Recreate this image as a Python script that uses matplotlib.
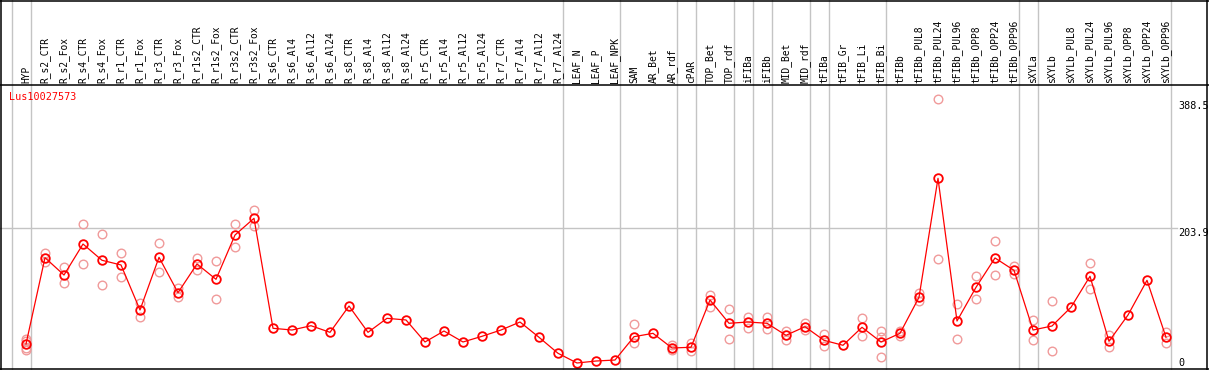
import numpy as np
import matplotlib
matplotlib.use("Agg")
import matplotlib.pyplot as plt
from matplotlib.lines import Line2D

# sample names (column order)
samples = ["HYP", "R_s2_CTR", "R_s2_Fox", "R_s4_CTR", "R_s4_Fox", "R_r1_CTR", "R_r1_Fox",
           "R_r3_CTR", "R_r3_Fox", "R_r1s2_CTR", "R_r1s2_Fox", "R_r3s2_CTR", "R_r3s2_Fox",
           "R_s6_CTR", "R_s6_Al4", "R_s6_Al12", "R_s6_Al24", "R_s8_CTR", "R_s8_Al4",
           "R_s8_Al12", "R_s8_Al24", "R_r5_CTR", "R_r5_Al4", "R_r5_Al12", "R_r5_Al24",
           "R_r7_CTR", "R_r7_Al4", "R_r7_Al12", "R_r7_Al24", "LEAF_N", "LEAF_P", "LEAF_NPK",
           "SAM", "AR_Bet", "AR_rdf", "cPAR", "TOP_Bet", "TOP_rdf", "iFIBa", "iFIBb",
           "MID_Bet", "MID_rdf", "tFIBa", "tFIB_Gr", "tFIB_Li", "tFIB_Bi", "tFIBb",
           "tFIBb_PUL8", "tFIBb_PUL24", "tFIBb_PUL96", "tFIBb_OPP8", "tFIBb_OPP24",
           "tFIBb_OPP96", "sXYLa", "sXYLb", "sXYLb_PUL8", "sXYLb_PUL24", "sXYLb_PUL96",
           "sXYLb_OPP8", "sXYLb_OPP24", "sXYLb_OPP96"]

# mean expression per sample
means = [28.7, 159.3, 133.1, 180.0, 155.4, 148.3, 80.2, 159.9, 106.4, 149.8, 126.6, 193.6,
         218.9, 52.5, 49.9, 56.4, 46.4, 86.2, 46.4, 67.6, 65.1, 31.8, 48.4, 31.8, 40.4,
         49.9, 62.0, 38.9, 14.7, 0.0, 3.0, 4.5, 39.8, 44.9, 22.7, 23.8, 95.3, 60.1, 62.0,
         60.1, 41.9, 54.9, 34.3, 26.8, 54.0, 31.8, 44.9, 99.4, 279.4, 63.5, 114.5, 158.9,
         140.2, 49.9, 56.0, 84.3, 131.2, 32.8, 72.6, 125.1, 38.9]

# replicate values (only those that show beside the mean)
replicates = {
    0: [37, 34, 23, 20], 1: [166, 153], 2: [145, 121], 3: [210, 150], 4: [195, 118],
    5: [166, 130], 6: [91, 70], 7: [181, 137], 8: [113, 100], 9: [159, 140],
    10: [155, 97], 11: [210, 175], 12: [232, 207], 32: [59, 31], 34: [27, 19],
    35: [31, 18], 36: [103, 85], 37: [81, 37], 38: [69, 53], 39: [69, 52],
    40: [49, 35], 41: [60, 50], 42: [44, 26], 44: [68, 41], 45: [48, 40, 9],
    46: [49, 41], 47: [106, 94], 48: [400, 158], 49: [90, 36], 50: [132, 97],
    51: [184, 133], 52: [147, 134], 53: [65, 35], 54: [94, 18], 56: [151, 112],
    57: [42, 24], 60: [47, 31],
}

# vertical separators come after these sample indices
group_ends = [-1, 0, 28, 31, 34, 35, 37, 38, 39, 41, 42, 45, 52, 53, 60]
y_ticks = [388.5, 203.9, 0]
gene = "Lus10027573"

W, H = 1209, 370
HEAD = 85
fig = plt.figure(figsize=(W / 100, H / 100), dpi=100)
fig.patch.set_facecolor("white")

x0, dx = 26, 19          # pixel position of first column, column spacing
y0, sy = 363, 0.661      # pixel row of value 0, pixels per unit
xlim = (-x0 / dx, (W - x0) / dx)

ax = fig.add_axes([0, 0, 1, (H - HEAD) / H])
ax.set_xlim(*xlim)
ax.set_ylim((y0 - H) / sy, (y0 - HEAD) / sy)
ax.axis("off")

hax = fig.add_axes([0, (H - HEAD) / H, 1, HEAD / H])
hax.set_xlim(*xlim)
hax.set_ylim(0, 1)
hax.axis("off")

grid = "#c4c4c4"
for g in group_ends:
    ax.axvline(g + 0.24, color=grid, lw=1, zorder=0)
    hax.axvline(g + 0.24, color=grid, lw=1, zorder=0)
ax.axhline(203.9, xmin=0, xmax=1177 / W, color=grid, lw=1, zorder=0)

mono = "DejaVu Sans Mono"
for i, name in enumerate(samples):
    hax.text(i, 2.3 / HEAD, name, rotation=90, ha="center", va="bottom",
             fontsize=6.9, family=mono, color="black")

idx = np.arange(len(samples))
for i, vals in replicates.items():
    ax.plot([i] * len(vals), vals, "o", ms=6.2, mfc="none", mec="#f09a9a", mew=1.0,
            zorder=2, clip_on=False)
ax.plot(idx, means, "-", color="red", lw=0.9, zorder=3)
ax.plot(idx, means, "o", ms=6.2, mfc="none", mec="red", mew=1.3, zorder=4)

tick_x = (1178 - x0) / dx
ax.text(tick_x, 388.5, "388.5", ha="left", va="center", fontsize=7.3, family=mono)
ax.text(tick_x, 203.9, "203.9", ha="left", va="top", fontsize=7.3, family=mono)
ax.text(tick_x, 0, "0", ha="left", va="center", fontsize=7.3, family=mono)

ax.text(9 / W, (H - 97) / (H - HEAD), gene, transform=ax.transAxes, ha="left",
        va="center", fontsize=7.3, family=mono, color="red")

# frame lines
def hline(y, x1=0, x2=W):
    fig.add_artist(Line2D([x1 / W, x2 / W], [1 - y / H, 1 - y / H], color="black", lw=1.1))

def vline(x):
    fig.add_artist(Line2D([x / W, x / W], [0, 1], color="black", lw=1.1))

hline(0.7)
hline(HEAD)
hline(369)
vline(1)
vline(1207)

fig.savefig("out.png", dpi=100)
